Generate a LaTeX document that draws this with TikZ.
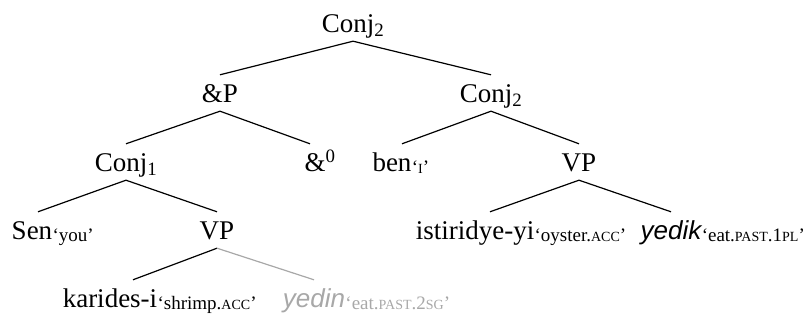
\documentclass[tikz,border=0pt]{standalone}
\usepackage{fontspec}
\setmainfont{Liberation Serif}
\newfontfamily\yfont{Liberation Sans}
\usetikzlibrary{calc}

\definecolor{faded}{gray}{0.66}
\newcommand{\smc}[1]{{\fontsize{14}{15}\selectfont #1}}

\begin{document}
\begin{tikzpicture}[x=1pt, y=-1pt]

\tikzset{cat/.style={font=\fontsize{27}{30}\selectfont, anchor=base, text height=24pt, text depth=4pt, inner ysep=4pt, inner xsep=0pt}}
\tikzset{gloss/.style={font=\fontsize{19}{21}\selectfont, anchor=base west, inner sep=0pt, yshift=-2pt}}
\tikzset{branch/.style={line width=1.2pt}}
\tikzset{verb/.style={cat, font=\yfont\itshape\fontsize{26}{30}\selectfont}}

\useasboundingbox (0,0) rectangle (804,320);

% obere Ebenen
\node[cat] (top) at (353,33) {Conj\textsubscript{2}};
\node[cat] (andp) at (220,103) {\&P};
\node[cat] (conjr) at (491,103) {Conj\textsubscript{2}};
\node[cat] (conjl) at (126,172) {Conj\textsubscript{1}};
\node[cat] (amp) at (320,172) {\&\textsuperscript{0}};
\node[cat] (ben) at (392,172) {ben};
\node[gloss] (benG) at (ben.base east) {‘\smc{I}’};
\node[cat] (vpr) at (579,172) {VP};

% untere Ebenen
\node[cat] (sen) at (32,240) {Sen};
\node[gloss] (senG) at (sen.base east) {‘you’};
\node[cat] (vpl) at (217,240) {VP};
\node[cat] (ist) at (475,240) {istiridye-yi};
\node[gloss] (istG) at (ist.base east) {‘oyster.\smc{ACC}’};
\node[verb] (yedik) at (671,240) {yedik};
\node[gloss] (yedikG) at (yedik.base east) {‘eat.\smc{PAST}.1\smc{PL}’};
\node[cat] (kar) at (110,308) {karides-i};
\node[gloss] (karG) at (kar.base east) {‘shrimp.\smc{ACC}’};
\node[verb, text=faded] (yedin) at (314,308) {yedin};
\node[gloss, text=faded] (yedinG) at (yedin.base east) {‘eat.\smc{PAST}.2\smc{SG}’};

% Kanten
\draw[branch] (top.south) -- (andp.north);
\draw[branch] (top.south) -- (conjr.north);
\draw[branch] (andp.south) -- (conjl.north);
\draw[branch] (andp.south) -- ($(amp.north)+(-10,0)$);
\draw[branch] (conjr.south) -- ($(ben.north)+(10,0)$);
\draw[branch] (conjr.south) -- (vpr.north);
\draw[branch] (conjl.south) -- ($(sen.north)+(6,0)$);
\draw[branch] (conjl.south) -- (vpl.north);
\draw[branch] (vpr.south) -- ($(ist.north)+(15,0)$);
\draw[branch] (vpr.south) -- (yedik.north);
\draw[branch] (vpl.south) -- ($(kar.north)+(23,0)$);
\draw[branch, faded] (vpl.south) -- (yedin.north);

\end{tikzpicture}
\end{document}
